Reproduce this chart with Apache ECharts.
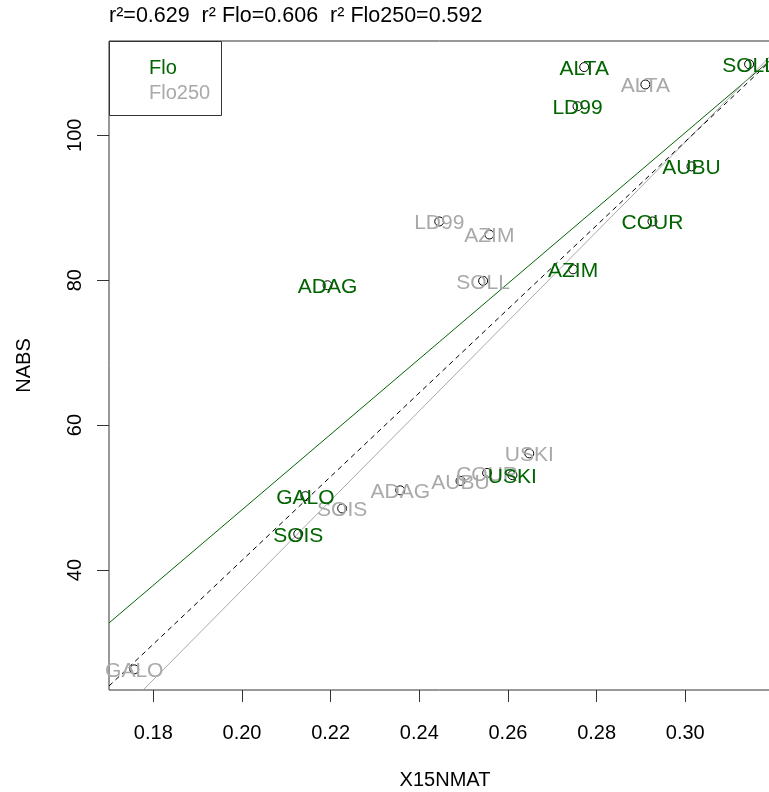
<!DOCTYPE html>
<html>
<head>
<meta charset="utf-8">
<script src="https://cdn.jsdelivr.net/npm/echarts@6/dist/echarts.min.js"></script>
<style>
  html, body { margin: 0; padding: 0; background: #fff; }
  #main { width: 769px; height: 792px; }
</style>
</head>
<body>
<div id="main"></div>
<script>
// site names, same order for both series
var names = ['ALTA', 'SOLL', 'LD99', 'AUBU', 'COUR', 'AZIM', 'ADAG', 'USKI', 'GALO', 'SOIS'];

// Flo (green)
var floX = [0.2772, 0.3144, 0.2757, 0.3014, 0.2926, 0.2747, 0.2193, 0.2610, 0.2143, 0.2127];
var floY = [109.4, 109.8, 104.0, 95.7, 88.1, 81.5, 79.3, 53.1, 50.2, 45.0];

// Flo250 (gray)
var flo250X = [0.2910, 0.2544, 0.2445, 0.2493, 0.2553, 0.2558, 0.2357, 0.2648, 0.1757, 0.2226];
var flo250Y = [107.0, 79.9, 88.1, 52.3, 53.4, 86.3, 51.0, 56.1, 26.3, 48.5];

// fitted lines (end points)
var fitFloX = [0.170, 0.3216];
var fitFloY = [32.7, 111.6];
var fitFlo250X = [0.1777, 0.3216];
var fitFlo250Y = [23.45, 112.4];
var fitAllX = [0.170, 0.3216];
var fitAllY = [24.0, 111.6];

var xTicks = [0.18, 0.20, 0.22, 0.24, 0.26, 0.28, 0.30];
var yTicks = [40, 60, 80, 100];

var titleText = 'r\u00b2=0.629  r\u00b2 Flo=0.606  r\u00b2 Flo250=0.592';

var green = '#006400';
var gray = '#a9a9a9';
var font = "'Liberation Sans', Arial, sans-serif";

function pts(xs, ys) {
    return xs.map(function (x, i) { return { name: names[i], value: [x, ys[i]] }; });
}
function line(xs, ys) {
    return xs.map(function (x, i) { return [x, ys[i]]; });
}

var myChart = echarts.init(document.getElementById('main'));

var option = {
    animation: false,
    textStyle: { fontFamily: font },
    title: {
        text: titleText,
        left: 109, top: 5, padding: 0,
        textStyle: { fontSize: 21.5, fontWeight: 'normal', color: '#000', fontFamily: font }
    },
    grid: {
        left: 109, top: 41, width: 672, height: 649,
        outerBoundsMode: 'none',
        show: true, borderColor: '#333', borderWidth: 1, backgroundColor: 'transparent'
    },
    xAxis: {
        type: 'value', min: 0.170, max: 0.3216,
        name: 'X15NMAT', nameLocation: 'middle', nameGap: 80,
        nameTextStyle: { fontSize: 20, color: '#000', fontFamily: font },
        axisLine: { show: false },
        splitLine: { show: false },
        axisTick: { show: true, length: 12, inside: false, customValues: xTicks, lineStyle: { color: '#333' } },
        axisLabel: {
            customValues: xTicks, margin: 33, fontSize: 20, color: '#000', fontFamily: font,
            formatter: function (v) { return v.toFixed(2); }
        }
    },
    yAxis: {
        type: 'value', min: 23.45, max: 113.0,
        name: 'NABS', nameLocation: 'middle', nameGap: 75, nameRotate: 90,
        nameTextStyle: { fontSize: 20, color: '#000', fontFamily: font },
        axisLine: { show: false },
        splitLine: { show: false },
        axisTick: { show: true, length: 12, inside: false, customValues: yTicks, lineStyle: { color: '#333' } },
        axisLabel: {
            customValues: yTicks, margin: 24, rotate: 90, fontSize: 20, color: '#000', fontFamily: font
        }
    },
    graphic: [
        {
            type: 'rect', left: 109, top: 41, z: 100,
            shape: { width: 112, height: 74 },
            style: { fill: '#fff', stroke: '#333', lineWidth: 1 }
        },
        {
            type: 'text', left: 149, top: 58, z: 101,
            style: { text: 'Flo', fill: green, font: '20px ' + font }
        },
        {
            type: 'text', left: 149, top: 83, z: 101,
            style: { text: 'Flo250', fill: gray, font: '20px ' + font }
        }
    ],
    series: [
        {
            name: 'fit Flo', type: 'line', data: line(fitFloX, fitFloY),
            symbol: 'none', silent: true, z: 2,
            lineStyle: { color: green, width: 1 }
        },
        {
            name: 'fit Flo250', type: 'line', data: line(fitFlo250X, fitFlo250Y),
            symbol: 'none', silent: true, z: 2,
            lineStyle: { color: gray, width: 1 }
        },
        {
            name: 'fit all', type: 'line', data: line(fitAllX, fitAllY),
            symbol: 'none', silent: true, z: 2,
            lineStyle: { color: '#000', width: 1, type: [5, 4] }
        },
        {
            name: 'Flo250', type: 'scatter', data: pts(flo250X, flo250Y),
            symbol: 'circle', symbolSize: 9, silent: true, z: 3,
            itemStyle: { color: 'transparent', borderColor: '#000', borderWidth: 1, opacity: 1 },
            label: {
                show: true, position: 'inside', offset: [0, 2],
                formatter: '{b}', color: gray, fontSize: 21, fontFamily: font,
                textBorderWidth: 0, textBorderColor: 'transparent'
            }
        },
        {
            name: 'Flo', type: 'scatter', data: pts(floX, floY),
            symbol: 'circle', symbolSize: 9, silent: true, z: 3,
            itemStyle: { color: 'transparent', borderColor: '#000', borderWidth: 1, opacity: 1 },
            label: {
                show: true, position: 'inside', offset: [0, 2],
                formatter: '{b}', color: green, fontSize: 21, fontFamily: font,
                textBorderWidth: 0, textBorderColor: 'transparent'
            }
        }
    ]
};

myChart.setOption(option);
</script>
</body>
</html>
